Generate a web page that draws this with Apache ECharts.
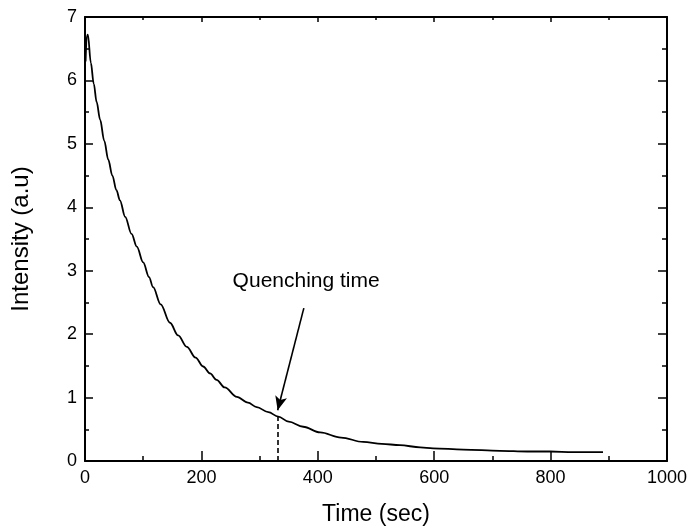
<!DOCTYPE html>
<html>
<head>
<meta charset="utf-8">
<script src="https://cdn.jsdelivr.net/npm/echarts@6/dist/echarts.min.js"></script>
<style>
  html, body { margin: 0; padding: 0; background: #fff; }
  #chart { width: 687px; height: 527px; }
</style>
</head>
<body>
<div id="chart"></div>
<script>
// Decay of emission intensity over time (seconds)
const timeSec = [1, 3, 5, 10, 15, 20, 26, 33, 40, 47, 54, 60, 69, 80, 89, 100, 110, 117, 130, 146,
  160, 175, 190, 203, 215, 226, 240, 261, 280, 295, 315, 332, 350, 375, 404, 440, 478, 510, 541, 576,
  598, 650, 713, 760, 799, 839, 890];
const intensity = [6.30, 6.70, 6.72, 6.28, 5.95, 5.66, 5.38, 5.05, 4.75, 4.50, 4.27, 4.11, 3.85, 3.58, 3.38, 3.13, 2.90, 2.74, 2.47, 2.18,
  1.98, 1.80, 1.63, 1.49, 1.38, 1.28, 1.16, 1.01, 0.92, 0.85, 0.77, 0.70, 0.62, 0.54, 0.45, 0.37, 0.30, 0.27, 0.25, 0.215,
  0.20, 0.18, 0.16, 0.15, 0.15, 0.14, 0.14];

// Quenching-time marker and annotation
const quenchTime = 332;
const quenchValue = 0.70;
const arrowFrom = [376, 2.41];
const arrowTo = [331, 0.80];
const noteLabel = 'Quenching time';
const notePos = [380, 2.83];

const xTicks = { min: 0, max: 1000, interval: 200 };
const yTicks = { min: 0, max: 7, interval: 1 };

const FONT = 'Liberation Sans, Arial, sans-serif';
const points = timeSec.map((t, i) => [t, intensity[i]]);

function frameAxis(range, pos, withLabels, majorLen, minorLen, name, nameGap, nameSize) {
  return {
    type: 'value',
    position: pos,
    min: range.min, max: range.max, interval: range.interval,
    axisLine: { show: true, onZero: false, lineStyle: { color: '#000', width: 2 } },
    axisTick: { show: true, inside: true, length: majorLen, lineStyle: { color: '#000', width: 1.5 } },
    minorTick: { show: true, splitNumber: 2, length: minorLen, lineStyle: { color: '#000', width: 1.5 } },
    splitLine: { show: false },
    minorSplitLine: { show: false },
    axisLabel: withLabels
      ? { show: true, color: '#000', fontSize: 18, fontFamily: FONT, margin: 8, formatter: v => String(v) }
      : { show: false },
    name: withLabels ? name : '',
    nameLocation: 'middle',
    nameGap: nameGap,
    nameTextStyle: { color: '#000', fontSize: nameSize || 20, fontFamily: FONT }
  };
}

const chart = echarts.init(document.getElementById('chart'), null, { renderer: 'canvas' });
chart.setOption({
  animation: false,
  backgroundColor: '#fff',
  grid: { left: 85, right: 20, top: 17, bottom: 66, containLabel: false, outerBoundsMode: 'none' },
  xAxis: [
    frameAxis(xTicks, 'bottom', true, 10, 5, 'Time (sec)', 42, 23),
    frameAxis(xTicks, 'top', false, 5, 3, '', 0)
  ],
  yAxis: [
    frameAxis(yTicks, 'left', true, 8, 4, 'Intensity (a.u)', 52, 24),
    frameAxis(yTicks, 'right', false, 9, 5, '', 0)
  ],
  series: [
    {
      type: 'line',
      data: points,
      showSymbol: false,
      smooth: 0.35,
      smoothMonotone: 'x',
      lineStyle: { color: '#000', width: 1.8 },
      markLine: {
        silent: true,
        animation: false,
        label: { show: false },
        data: [
          [
            { coord: [quenchTime, 0], symbol: 'none', lineStyle: { type: [5, 3], color: '#000', width: 1.6 } },
            { coord: [quenchTime, quenchValue], symbol: 'none' }
          ],
          [
            { coord: arrowFrom, symbol: 'none', lineStyle: { type: 'solid', color: '#000', width: 1.6 } },
            { coord: arrowTo, symbol: 'arrow', symbolSize: [9, 14] }
          ]
        ]
      }
    }
  ]
});

// Annotation text placed at a data coordinate
const notePx = chart.convertToPixel({ xAxisIndex: 0, yAxisIndex: 0 }, notePos);
chart.setOption({
  graphic: [{
    type: 'text',
    x: notePx[0],
    y: notePx[1],
    style: {
      text: noteLabel,
      fill: '#000',
      font: '21px ' + FONT,
      align: 'center',
      verticalAlign: 'middle'
    }
  }]
});
</script>
</body>
</html>
